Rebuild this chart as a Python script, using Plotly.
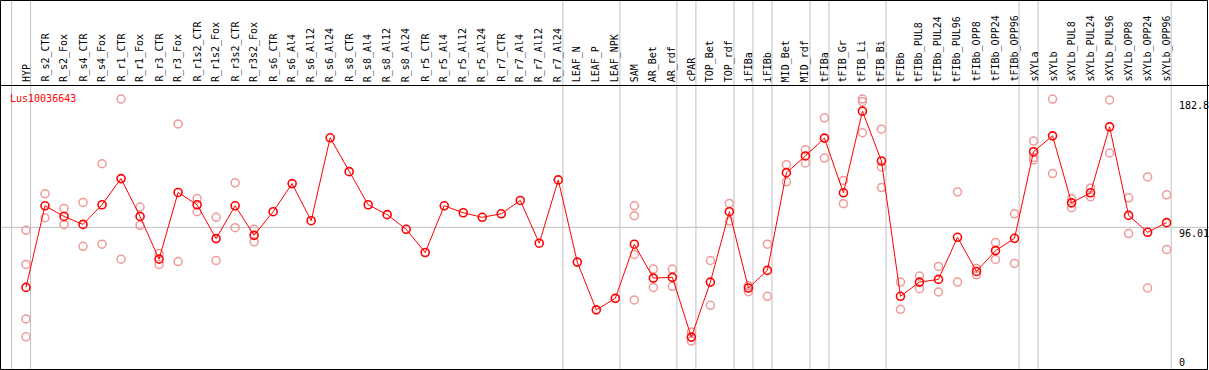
import plotly.graph_objects as go

categories = ["HYP", "R_s2_CTR", "R_s2_Fox", "R_s4_CTR", "R_s4_Fox", "R_r1_CTR", "R_r1_Fox",
              "R_r3_CTR", "R_r3_Fox", "R_r1s2_CTR", "R_r1s2_Fox", "R_r3s2_CTR", "R_r3s2_Fox",
              "R_s6_CTR", "R_s6_Al4", "R_s6_Al12", "R_s6_Al24", "R_s8_CTR", "R_s8_Al4", "R_s8_Al12",
              "R_s8_Al24", "R_r5_CTR", "R_r5_Al4", "R_r5_Al12", "R_r5_Al24", "R_r7_CTR", "R_r7_Al4",
              "R_r7_Al12", "R_r7_Al24", "LEAF_N", "LEAF_P", "LEAF_NPK", "SAM", "AR_Bet", "AR_rdf",
              "cPAR", "TOP_Bet", "TOP_rdf", "iFIBa", "iFIBb", "MID_Bet", "MID_rdf", "tFIBa",
              "tFIB_Gr", "tFIB_Li", "tFIB_Bi", "tFIBb", "tFIBb_PUL8", "tFIBb_PUL24", "tFIBb_PUL96",
              "tFIBb_OPP8", "tFIBb_OPP24", "tFIBb_OPP96", "sXYLa", "sXYLb", "sXYLb_PUL8",
              "sXYLb_PUL24", "sXYLb_PUL96", "sXYLb_OPP8", "sXYLb_OPP24", "sXYLb_OPP96"]

means = [55.4, 110.6, 103.4, 98.0, 111.3, 129.0, 103.4, 74.5, 119.6, 111.3, 88.4, 110.6, 90.6,
         106.6, 125.6, 100.5, 156.6, 133.7, 111.3, 104.6, 94.7, 79.0, 110.6, 105.9, 102.8,
         105.2, 114.2, 85.3, 128.1, 72.5, 40.2, 48.0, 84.6, 61.7, 62.2, 21.8, 59.0, 106.6,
         55.0, 66.9, 133.0, 144.3, 156.4, 119.4, 174.6, 140.9, 49.4, 59.0, 60.8, 89.3, 66.2,
         80.3, 88.6, 147.2, 157.9, 112.6, 119.4, 164.0, 104.1, 92.7, 99.2]

replicates = [
    [94.0, 70.9, 34.1, 22.0], [118.7, 102.5], [108.8, 97.8], [112.9, 83.2], [139.1, 84.6],
    [182.8, 74.5], [109.7, 97.4], [78.3, 70.9], [166.0, 72.9], [115.5, 106.6], [102.8, 73.6],
    [126.1, 95.8], [94.7, 86.2],
    [], [], [], [], [], [], [], [], [], [], [], [], [], [], [], [],
    [], [], [],
    [110.6, 103.9, 77.7, 46.9], [67.8, 55.4], [67.8, 56.1], [25.2, 19.1], [73.6, 43.3],
    [112.2, 100.3], [56.5, 52.5], [84.6, 49.4], [138.4, 126.8], [148.5, 139.6],
    [170.1, 142.9], [127.7, 112.0], [182.8, 181.0, 160.0], [162.4, 136.9, 122.9],
    [59.0, 40.6], [63.1, 54.5], [69.6, 52.3], [120.0, 59.0], [68.2, 63.9], [85.7, 74.3],
    [105.2, 71.6], [154.4, 143.3, 141.6], [182.8, 132.4], [115.5, 109.3], [122.7, 116.7],
    [182.2, 146.3], [116.0, 91.8], [130.1, 55.0], [118.0, 81.0]]

# separators drawn after these groups (None = before the first category)
group_ends = [None, "HYP", "R_r7_Al24", "LEAF_NPK", "AR_rdf", "cPAR", "TOP_rdf", "iFIBa",
              "iFIBb", "MID_rdf", "tFIBa", "tFIB_Bi", "tFIBb_OPP96", "sXYLa", "sXYLb_OPP96"]

y_ticks = [0, 96.01, 182.8]
y_tick_text = ["0", "96.01", "182.8"]
gene = "Lus10036643"

W, H = 1209, 370
TOP = 85
PLOT_H = H - TOP
STEP = 19.01
X0 = 26.0
FONT = "DejaVu Sans Mono"

idx = list(range(len(categories)))
rx, ry = [], []
for i, reps in enumerate(replicates):
    for v in reps:
        rx.append(i)
        ry.append(v)

fig = go.Figure()
fig.add_trace(go.Scatter(x=rx, y=ry, mode="markers",
                         marker=dict(symbol="circle-open", size=8, color="#f09a9a",
                                     line=dict(width=1.5, color="#f09a9a")),
                         showlegend=False, hoverinfo="skip"))
fig.add_trace(go.Scatter(x=idx, y=means, mode="lines+markers",
                         line=dict(color="#ff0000", width=1),
                         marker=dict(symbol="circle-open", size=8, color="#ff0000",
                                     line=dict(width=1.6, color="#ff0000")),
                         showlegend=False))

shapes = []
ytop_paper = (H - 0.5) / PLOT_H
for g in group_ends:
    gi = -1 if g is None else categories.index(g)
    shapes.append(dict(type="line", xref="x", yref="paper", x0=gi + 0.24, x1=gi + 0.24,
                       y0=0, y1=ytop_paper, line=dict(color="#c0c0c0", width=1), layer="below"))
shapes.append(dict(type="line", xref="paper", yref="y", x0=0, x1=1, y0=y_ticks[1], y1=y_ticks[1],
                   line=dict(color="#c0c0c0", width=1), layer="below"))
# frame
shapes.append(dict(type="rect", xref="paper", yref="paper", x0=0.5 / W, x1=1 - 1.5 / W,
                   y0=0.5 / PLOT_H, y1=ytop_paper, line=dict(color="black", width=1)))
shapes.append(dict(type="line", xref="paper", yref="paper", x0=0, x1=1,
                   y0=1 - 0.5 / PLOT_H, y1=1 - 0.5 / PLOT_H, line=dict(color="black", width=1)))

annotations = []
# category labels (rotated) in the header strip
lab_y = (H - 83) / PLOT_H
for i, c in zip(idx, categories):
    annotations.append(dict(x=i, xref="x", y=lab_y, yref="paper", text=c, showarrow=False,
                            textangle=-90, xanchor="center", yanchor="bottom", borderpad=0,
                            font=dict(family=FONT, size=10, color="black")))
lab_x = 1178 / W
for v, t in zip(y_ticks, y_tick_text):
    annotations.append(dict(x=lab_x, xref="paper", y=v, yref="y", text=t, showarrow=False,
                            xanchor="left", yanchor="bottom" if v == 0 else "top", borderpad=0,
                            font=dict(family=FONT, size=10, color="black")))
annotations.append(dict(x=9 / W, xref="paper", y=(H - 98) / PLOT_H, yref="paper", text=gene,
                        showarrow=False, xanchor="left", yanchor="middle", borderpad=0,
                        font=dict(family=FONT, size=10, color="#ff0000")))

fig.update_layout(
    width=W, height=H,
    margin=dict(l=0, r=0, t=TOP, b=0, pad=0),
    paper_bgcolor="white", plot_bgcolor="white",
    hovermode=False,
    xaxis=dict(range=[-X0 / STEP, (W - X0) / STEP], showgrid=False, zeroline=False,
               showline=False, showticklabels=False, ticks="", fixedrange=True),
    yaxis=dict(range=[-0.47, 192.3], showgrid=False, zeroline=False, showticklabels=False,
               showline=False, fixedrange=True),
    shapes=shapes, annotations=annotations,
)

fig.write_html("out.html", config={"displayModeBar": False},
               post_script="document.body.style.margin='0';document.body.style.padding='0';"
                           "document.documentElement.style.overflow='hidden';")
